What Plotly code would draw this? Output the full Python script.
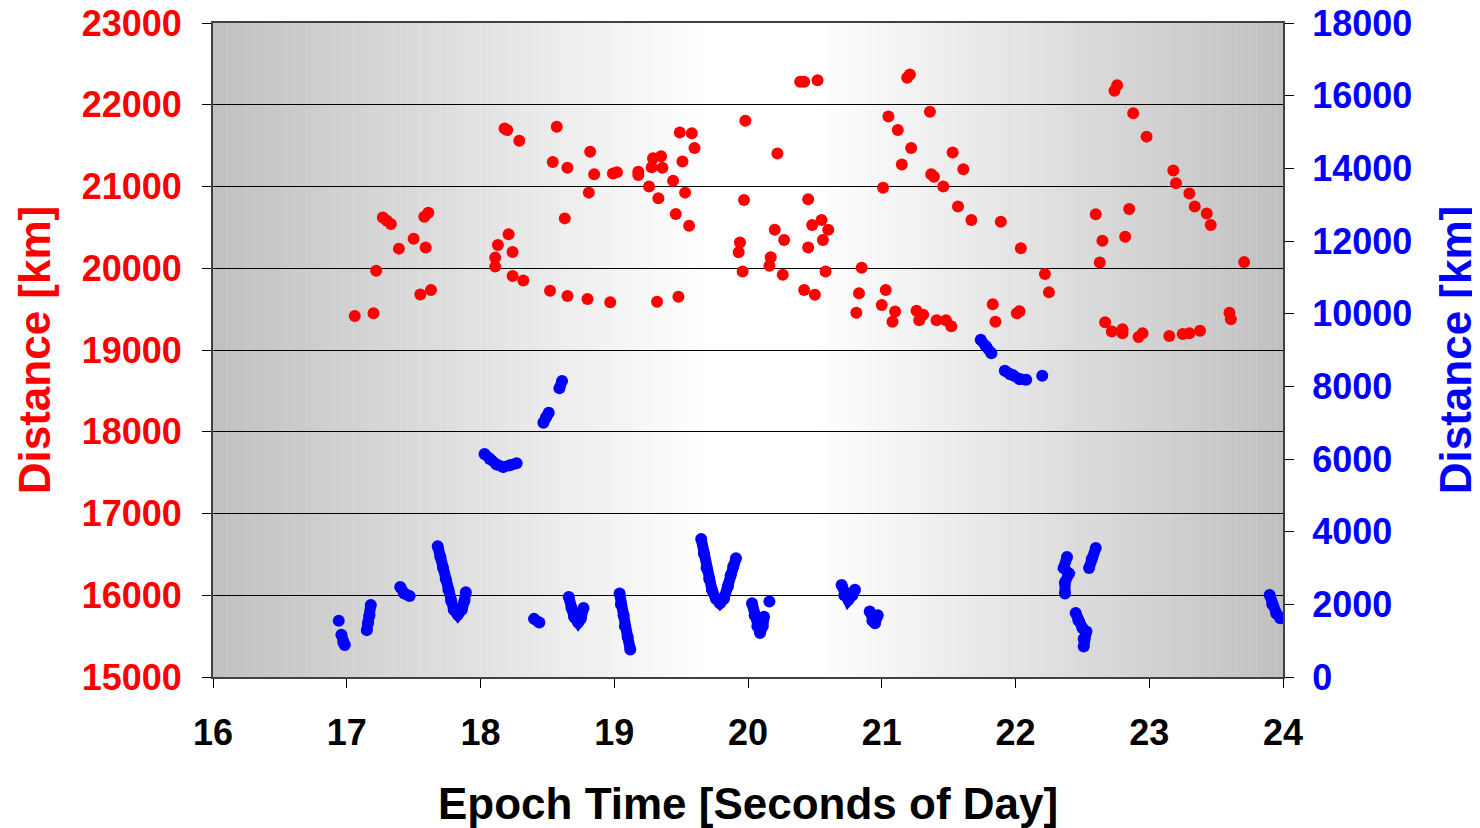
import plotly.graph_objects as go

# ---- data ----
red_t = [17.06, 17.20, 17.22, 17.27, 17.30, 17.33, 17.39, 17.50, 17.55, 17.59, 17.58, 17.61, 17.63,
         18.11, 18.11, 18.13, 18.21, 18.24, 18.24, 18.32, 18.18, 18.20, 18.29, 18.52, 18.54, 18.57,
         18.63, 18.65, 18.65, 18.81, 18.82, 18.85, 18.80, 18.97, 18.99, 19.02, 19.18, 19.18, 19.26,
         19.28, 19.29, 19.33, 19.35, 19.36, 19.32, 19.44, 19.46, 19.48, 19.49, 19.51, 19.53, 19.56,
         19.58, 19.60, 19.93, 19.94, 19.96, 19.97, 19.98, 20.16, 20.17, 20.20, 20.22, 20.26, 20.27,
         20.39, 20.42, 20.42, 20.45, 20.45, 20.48, 20.50, 20.52, 20.55, 20.56, 20.58, 20.60, 20.81,
         20.83, 20.85, 21.00, 21.01, 21.03, 21.05, 21.08, 21.10, 21.12, 21.15, 21.19, 21.21, 21.22,
         21.26, 21.28, 21.31, 21.36, 21.37, 21.39, 21.41, 21.46, 21.48, 21.52, 21.53, 21.57, 21.61,
         21.67, 21.83, 21.85, 21.89, 22.01, 22.03, 22.04, 22.22, 22.25, 22.60, 22.63, 22.65, 22.67,
         22.72, 22.74, 22.76, 22.80, 22.80, 22.82, 22.85, 22.88, 22.92, 22.95, 22.98, 23.15, 23.18,
         23.20, 23.25, 23.30, 23.30, 23.34, 23.38, 23.43, 23.46, 23.60, 23.61, 23.71]
red_d = [19415, 19450, 19970, 20620, 20580, 20540, 20240, 20360, 19680, 20255, 20630, 20680, 19735,
         20020, 20130, 20285, 20415, 20200, 19905, 19850, 21710, 21690, 21560, 19725, 21300, 21730,
         20610, 21230, 19660, 20925, 21425, 21150, 19625, 19585, 21160, 21175, 21180, 21140, 21000,
         21235, 21345, 20855, 21370, 21230, 19590, 21070, 20665, 19650, 21660, 21305, 20925, 20520,
         21650, 21470, 20195, 20315, 19960, 20835, 21805, 20030, 20135, 20470, 21405, 19920, 20345,
         22280, 22280, 19735, 20845, 20255, 20530, 19675, 22300, 20590, 20345, 19960, 20470, 19455,
         19695, 20005, 19550, 20985, 19735, 21855, 19345, 19470, 21690, 21270, 22330, 22370, 21470,
         19480, 19365, 19430, 21915, 21150, 21120, 19365, 21000, 19365, 19290, 21415, 20755, 21210,
         20590, 19560, 19345, 20570, 19450, 19475, 20245, 19930, 19705, 20660, 20070, 20335, 19340,
         19225, 22170, 22240, 19255, 19205, 20385, 20725, 21895, 19160, 19205, 21610, 19170, 21195,
         21040, 19195, 20915, 19205, 20755, 19235, 20670, 20530, 19455, 19375, 20075]

# blue tracks (None separates passes)
blue_t = [16.94, None,
          16.96, 16.975, 16.985, None,
          17.15, 17.16, 17.17, 17.18, None,
          17.40, 17.43, 17.47, None,
          17.68, 17.70, 17.72, 17.74, 17.76, 17.78, 17.80, 17.83, 17.86, 17.88, 17.89, None,
          18.03, 18.07, 18.12, 18.17, 18.22, 18.27, None,
          18.47, 18.49, 18.51, None,
          18.59, 18.61, None,
          18.40, 18.44, None,
          18.66, 18.68, 18.70, 18.73, 18.75, 18.77, None,
          19.04, 19.05, 19.07, 19.08, 19.10, 19.12, None,
          19.65, 19.67, 19.69, 19.71, 19.73, 19.76, 19.79, 19.82, 19.85, 19.87, 19.89, 19.91, None,
          20.03, 20.05, 20.07, 20.09, 20.11, 20.12, None,
          20.16, None,
          20.70, 20.72, 20.75, 20.78, 20.80, None,
          20.91, 20.93, 20.95, 20.97, None,
          21.74, 21.78, 21.82, None,
          21.92, 21.96, 21.98, 22.03, 22.08, None,
          22.20, None,
          22.385, 22.36, 22.40, 22.37, 22.37, None,
          22.55, 22.57, 22.60, None,
          22.45, 22.47, 22.50, 22.53, 22.51, 22.51, None,
          23.90, 23.92, 23.95, 23.98]
blue_d = [1550, None,
          1160, 950, 880, None,
          1290, 1500, 1700, 1980, None,
          2480, 2300, 2230, None,
          3600, 3300, 3000, 2700, 2400, 2100, 1850, 1710, 1850, 2100, 2330, None,
          6140, 6000, 5850, 5780, 5830, 5880, None,
          7000, 7150, 7270, None,
          7950, 8150, None,
          1600, 1500, None,
          2200, 1900, 1650, 1500, 1600, 1900, None,
          2300, 2000, 1700, 1400, 1100, 760, None,
          3800, 3400, 3000, 2700, 2400, 2150, 2030, 2150, 2500, 2800, 3050, 3270, None,
          2030, 1700, 1400, 1210, 1400, 1660, None,
          2075, None,
          2530, 2250, 2120, 2250, 2400, None,
          1800, 1550, 1480, 1700, None,
          9280, 9100, 8910, None,
          8430, 8330, 8310, 8200, 8180, None,
          8290, None,
          3300, 3000, 2850, 2600, 2300, None,
          3000, 3250, 3550, None,
          1760, 1560, 1350, 1250, 1050, 840, None,
          2260, 2000, 1750, 1620]

x_ticks = [16, 17, 18, 19, 20, 21, 22, 23, 24]
left_ticks = [15000, 16000, 17000, 18000, 19000, 20000, 21000, 22000, 23000]
right_ticks = [0, 2000, 4000, 6000, 8000, 10000, 12000, 14000, 16000, 18000]

FONT = "Liberation Sans, Arial, sans-serif"
TICK_SIZE = 36
TITLE_SIZE = 44

fig = go.Figure()
fig.add_trace(go.Scatter(x=red_t, y=red_d, mode="markers",
                         marker=dict(color="#FF0000", size=12, line=dict(width=0)),
                         yaxis="y", showlegend=False))
fig.add_trace(go.Scatter(x=blue_t, y=blue_d, mode="lines+markers", connectgaps=False,
                         line=dict(color="#0000FF", width=11),
                         marker=dict(color="#0000FF", size=12, line=dict(width=0)),
                         yaxis="y2", showlegend=False))

# gradient background (grey edges, white centre)
shapes = []
n = 160
for i in range(n):
    x0 = 16 + 8 * i / n
    x1 = 16 + 8 * (i + 1) / n
    xm = (x0 + x1) / 2
    if xm < 19.7:
        f = (xm - 16) / 3.7
    elif xm <= 20.5:
        f = 1.0
    else:
        f = (24 - xm) / 3.5
    g = int(round(192 + 63 * max(0.0, min(1.0, f))))
    shapes.append(dict(type="rect", xref="x", yref="paper", x0=x0, x1=x1 + 0.002, y0=0, y1=1,
                       fillcolor=f"rgb({g},{g},{g})", line=dict(width=0), layer="below"))

fig.update_layout(
    width=1472, height=820,
    margin=dict(l=205, r=197, t=15, b=151, autoexpand=False),
    paper_bgcolor="white", plot_bgcolor="white",
    shapes=shapes,
    font=dict(family=FONT),
    xaxis=dict(range=[16, 24], tickvals=x_ticks, ticktext=[str(v) for v in x_ticks],
               ticks="outside", ticklen=9, tickcolor="black", automargin=False,
               ticklabelstandoff=14, ticklabeloverflow="allow",
               tickfont=dict(size=TICK_SIZE, color="black", family=FONT, weight="bold"),
               showgrid=False, showline=True, linecolor="#404040", linewidth=2, mirror=True,
               zeroline=False),
    yaxis=dict(range=[15000, 23000], tickvals=left_ticks, ticktext=[str(v) for v in left_ticks],
               ticks="outside", ticklen=9, automargin=False, ticklabelstandoff=13,
               ticklabeloverflow="allow",
               tickcolor="black", tickfont=dict(size=TICK_SIZE, color="#FF0000", family=FONT,
                                                weight="bold"),
               showgrid=True, gridcolor="black", gridwidth=1, showline=True,
               linecolor="#404040", linewidth=2, zeroline=False),
    yaxis2=dict(range=[0, 18000], tickvals=right_ticks, ticktext=[str(v) for v in right_ticks],
                overlaying="y", side="right", automargin=False, ticklabelstandoff=11,
                ticklabeloverflow="allow",
                ticks="outside", ticklen=9, tickcolor="black",
                tickfont=dict(size=TICK_SIZE, color="#0000FF", family=FONT, weight="bold"),
                showgrid=False, showline=True, linecolor="#404040", linewidth=2, zeroline=False),
    annotations=[
        dict(text="<b>Distance [km]</b>", xref="paper", yref="paper", x=-0.167, y=0.5,
             xanchor="center", yanchor="middle",
             textangle=-90, showarrow=False, font=dict(size=TITLE_SIZE, color="#FF0000", family=FONT)),
        dict(text="<b>Distance [km]</b>", xref="paper", yref="paper", x=1.161, y=0.5,
             xanchor="center", yanchor="middle",
             textangle=-90, showarrow=False, font=dict(size=TITLE_SIZE, color="#0000FF", family=FONT)),
        dict(text="<b>Epoch Time [Seconds of Day]</b>", xref="paper", yref="paper", x=0.5,
             y=-0.193, xanchor="center", yanchor="middle", showarrow=False,
             font=dict(size=TITLE_SIZE, color="black", family=FONT)),
    ],
)

fig.write_html("out.html")
